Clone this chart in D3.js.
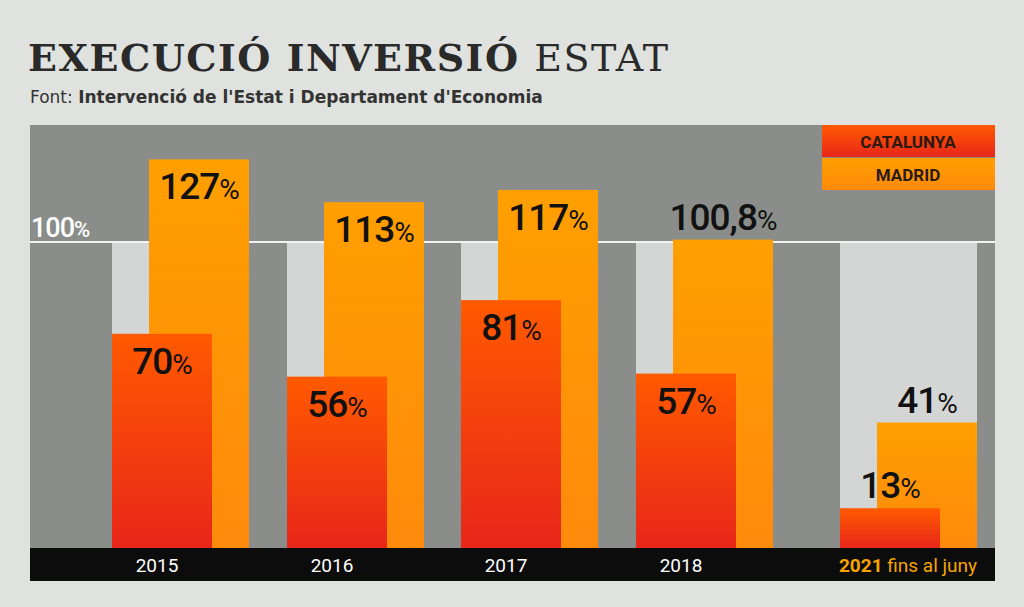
<!DOCTYPE html>
<html><head><meta charset="utf-8">
<script src="https://cdn.jsdelivr.net/npm/d3@7"></script>
<style>body{margin:0;background:#e4e6e3;}svg{display:block}</style>
</head><body>
<svg id="chart" width="1024" height="607"></svg>
<script>
// data
var years = ["2015", "2016", "2017", "2018", "2021"];
var catalunya = [70, 56, 81, 57, 13];
var madrid = [127, 113, 117, 100.8, 41];
var catLabels = ["70", "56", "81", "57", "13"];
var madLabels = ["127", "113", "117", "100,8", "41"];
var groupX = [112, 287, 461, 636, 840]; // left edge of each group

var svg = d3.select("#chart");
var y = d3.scaleLinear().domain([0, 100]).range([548, 242]);
var bw = 100, off = 37;

// background
var bg = svg.append("g");
bg.append("rect").attr("width", 1024).attr("height", 607).attr("fill", "#dfe2de");
bg.append("rect").attr("x", 30).attr("y", 125).attr("width", 965).attr("height", 423).attr("fill", "#8b8d8a");

// title
svg.append("text").attr("x", 28).attr("y", 71).attr("font-family", "DejaVu Serif").attr("font-weight", "bold")
  .attr("font-size", 38).attr("fill", "#2a2a2a").attr("textLength", 640)
  .text("EXECUCIÓ INVERSIÓ ").append("tspan").attr("font-weight", "normal").text("ESTAT");
svg.append("text").attr("x", 30).attr("y", 103).attr("font-family", "DejaVu Sans").attr("font-size", 17)
  .attr("fill", "#333").html("Font: <tspan font-weight='bold'>Intervenció de l'Estat i Departament d'Economia</tspan>");

// reference columns and 100% line
svg.selectAll(".ref").data(years).enter().append("rect")
  .attr("x", function(d, i){ return groupX[i]; }).attr("y", y(100))
  .attr("width", bw + off).attr("height", y(0) - y(100)).attr("fill", "#d4d6d5");
svg.append("line").attr("x1", 30).attr("x2", 995).attr("y1", y(100)).attr("y2", y(100))
  .attr("stroke", "#f2f2f2").attr("stroke-width", 2);
svg.append("text").attr("x", 31).attr("y", 237).attr("font-family", "Roboto").attr("font-weight", 500).attr("font-size", 27)
  .attr("fill", "#fff").attr("letter-spacing", -1).html("100<tspan font-size='22'>%</tspan>");

var defs = svg.append("defs");
var g1 = defs.append("linearGradient").attr("id", "gc").attr("x1", 0).attr("x2", 0).attr("y1", 0).attr("y2", 1);
g1.append("stop").attr("offset", 0).attr("stop-color", "#ff5a00");
g1.append("stop").attr("offset", 1).attr("stop-color", "#e8261a");
var g2 = defs.append("linearGradient").attr("id", "gm").attr("x1", 0).attr("x2", 0).attr("y1", 0).attr("y2", 1);
g2.append("stop").attr("offset", 0).attr("stop-color", "#ff9f00");
g2.append("stop").attr("offset", 1).attr("stop-color", "#ff8a0c");

// bars
svg.selectAll(".mad").data(madrid).enter().append("rect")
  .attr("x", function(d, i){ return groupX[i] + off; }).attr("y", function(d){ return y(d); })
  .attr("width", bw).attr("height", function(d){ return y(0) - y(d); }).attr("fill", "url(#gm)");
svg.selectAll(".cat").data(catalunya).enter().append("rect")
  .attr("x", function(d, i){ return groupX[i]; }).attr("y", function(d){ return y(d); })
  .attr("width", bw).attr("height", function(d){ return y(0) - y(d); }).attr("fill", "url(#gc)");

function lab(vals, labels, dx, above) {
  svg.selectAll(null).data(vals).enter().append("text")
    .attr("x", function(d, i){ return groupX[i] + dx + bw / 2; })
    .attr("y", function(d, i){ return (above[i] ? y(d) - 10 : y(d) + 40); })
    .attr("text-anchor", "middle").attr("font-family", "Roboto").attr("font-weight", 500).attr("font-size", 37)
    .attr("fill", "#111").attr("letter-spacing", -1)
    .html(function(d, i){ return labels[i] + "<tspan font-size='28' font-weight='400'>%</tspan>"; });
}
lab(madrid, madLabels, off, [false, false, false, true, true]);
lab(catalunya, catLabels, 0, [false, false, false, false, true]);

// axis bar
svg.append("rect").attr("x", 30).attr("y", 548).attr("width", 965).attr("height", 33).attr("fill", "#0c0c0c");
svg.selectAll(".yr").data(years).enter().append("text")
  .attr("x", function(d, i){ return i < 4 ? groupX[i] + 45 : 908; }).attr("y", 572)
  .attr("text-anchor", "middle").attr("font-family", "Roboto").attr("font-size", 19)
  .attr("fill", function(d, i){ return i < 4 ? "#fff" : "#f7a400"; })
  .attr("font-weight", function(d, i){ return i < 4 ? "normal" : "bold"; })
  .html(function(d, i){ return i < 4 ? d : d + " <tspan font-weight='normal'>fins al juny</tspan>"; });

// legend
var leg = [["CATALUNYA", "url(#gc)"], ["MADRID", "url(#gm)"]];
leg.forEach(function(l, i){
  svg.append("rect").attr("x", 822).attr("y", 125 + i * 33).attr("width", 173).attr("height", 32).attr("fill", l[1]);
  svg.append("text").attr("x", 908).attr("y", 148 + i * 33).attr("text-anchor", "middle")
    .attr("font-family", "Roboto").attr("font-weight", "bold").attr("font-size", 17).attr("fill", "#2a1a10").text(l[0]);
});
</script>
</body></html>
